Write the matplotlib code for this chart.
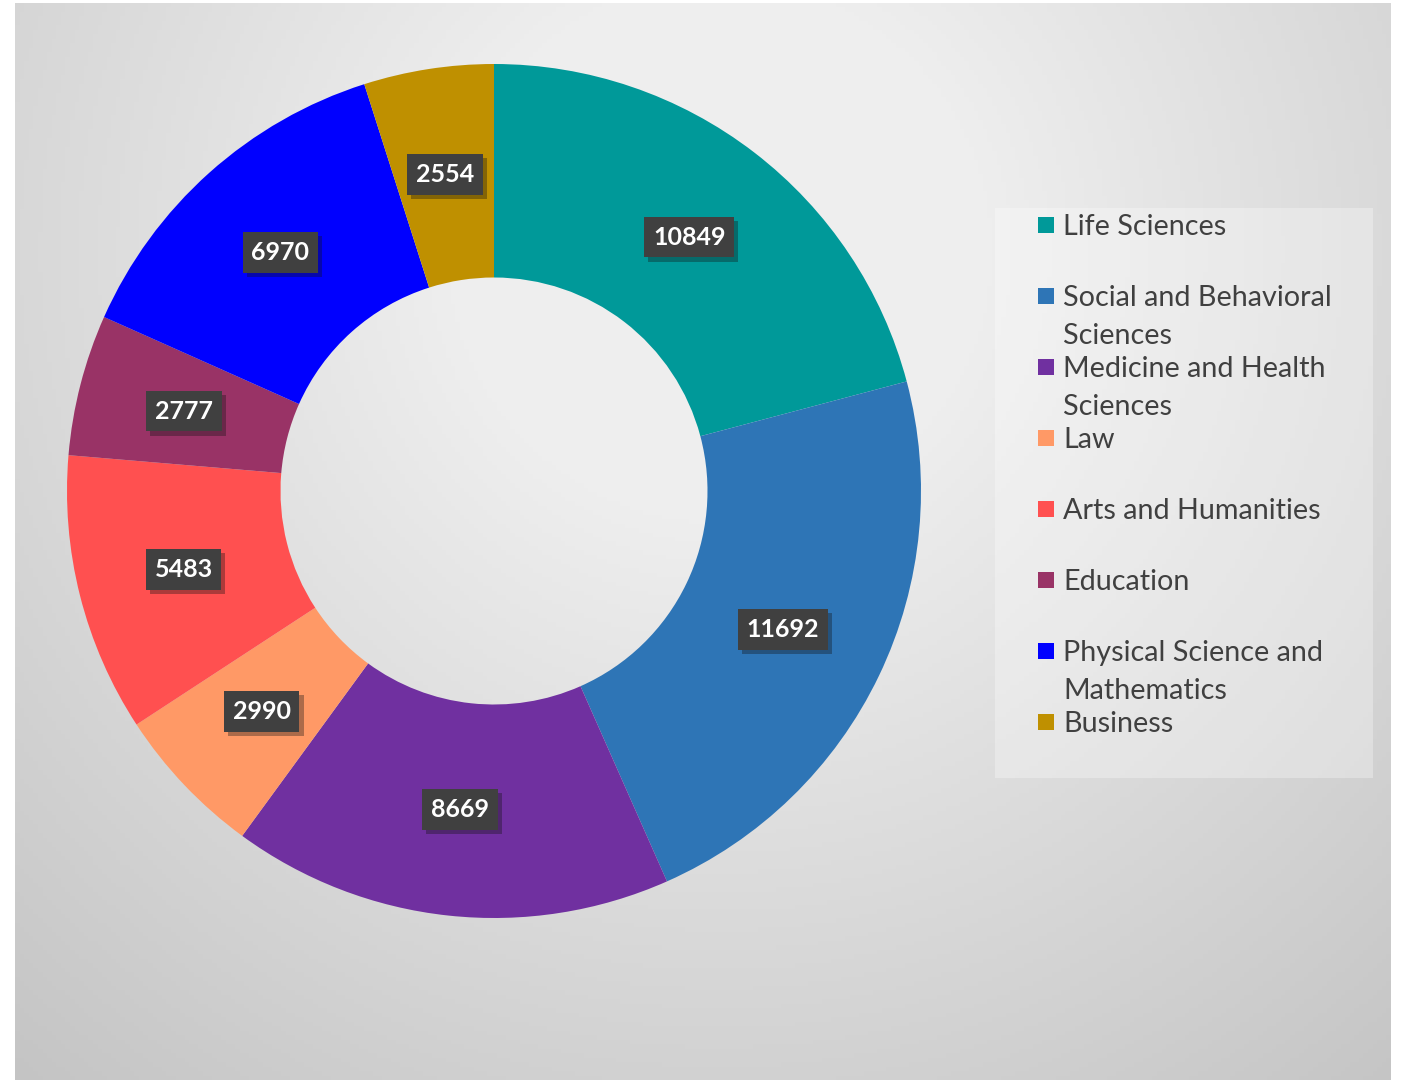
import numpy as np
import matplotlib
matplotlib.use("Agg")
import matplotlib.pyplot as plt
from matplotlib.patches import Rectangle
import matplotlib.patheffects as pe

# données du graphique
categories = ["Life Sciences", "Social and Behavioral\nSciences", "Medicine and Health\nSciences",
              "Law", "Arts and Humanities", "Education",
              "Physical Science and\nMathematics", "Business"]
valeurs = [10849, 11692, 8669, 2990, 5483, 2777, 6970, 2554]
couleurs = ["#009999", "#2E75B6", "#7030A0", "#FF9966", "#FF5050", "#993366", "#0000FF", "#BF9000"]

W, H = 1401, 1081
fig = plt.figure(figsize=(W / 100, H / 100), dpi=100)
fig.patch.set_facecolor("white")

# fond dégradé radial (zone du graphique)
x0, x1, y0, y1 = 15, 1391, 3, 1080
bg = fig.add_axes([x0 / W, 1 - y1 / H, (x1 - x0) / W, (y1 - y0) / H])
xx, yy = np.meshgrid(np.linspace(x0, x1, 300), np.linspace(y0, y1, 240))
d = np.hypot(xx - 720, yy - 250)
g = np.clip(252 - 0.0513 * d, 180, 238) / 255
bg.imshow(np.dstack([g, g, g]), aspect="auto", extent=[0, 1, 0, 1], origin="upper")
bg.set_axis_off()

# anneau
cx, cy, R = 494, 491, 427
ax = fig.add_axes([(cx - R) / W, 1 - (cy + R) / H, 2 * R / W, 2 * R / H])
wedges, _ = ax.pie(valeurs, colors=couleurs, startangle=90, counterclock=False,
                   radius=1, wedgeprops=dict(width=0.5, linewidth=0))
ax.set_xlim(-1, 1)
ax.set_ylim(-1, 1)
ax.set_aspect("equal")
ax.set_axis_off()

for w, v in zip(wedges, valeurs):
    ang = np.deg2rad((w.theta1 + w.theta2) / 2)
    t = ax.text(0.75 * np.cos(ang), 0.75 * np.sin(ang), str(v), ha="center", va="center",
                color="white", fontsize=18, fontweight="bold", family="Lato",
                bbox=dict(boxstyle="square,pad=0.35", fc="#404040", ec="none"))
    t.get_bbox_patch().set_path_effects([pe.SimplePatchShadow(offset=(3, -3), alpha=0.35), pe.Normal()])

# légende dessinée à la main
fig.patches.append(Rectangle((995 / W, 1 - 778 / H), 378 / W, 570 / H, transform=fig.transFigure,
                             facecolor="white", alpha=0.3, edgecolor="none", zorder=1))
y_entree = 225
for lab, c in zip(categories, couleurs):
    fig.patches.append(Rectangle((1038 / W, 1 - (y_entree + 8) / H), 16 / W, 16 / H,
                                 transform=fig.transFigure, facecolor=c, edgecolor="none", zorder=2))
    for i, ligne in enumerate(lab.split("\n")):
        fig.text(1063 / W, 1 - (y_entree + 2 + i * 38) / H, ligne, ha="left", va="center",
                 fontsize=20.7, family="Lato", color="#404040", zorder=3)
    y_entree += 71

fig.savefig("out.png", dpi=100)
